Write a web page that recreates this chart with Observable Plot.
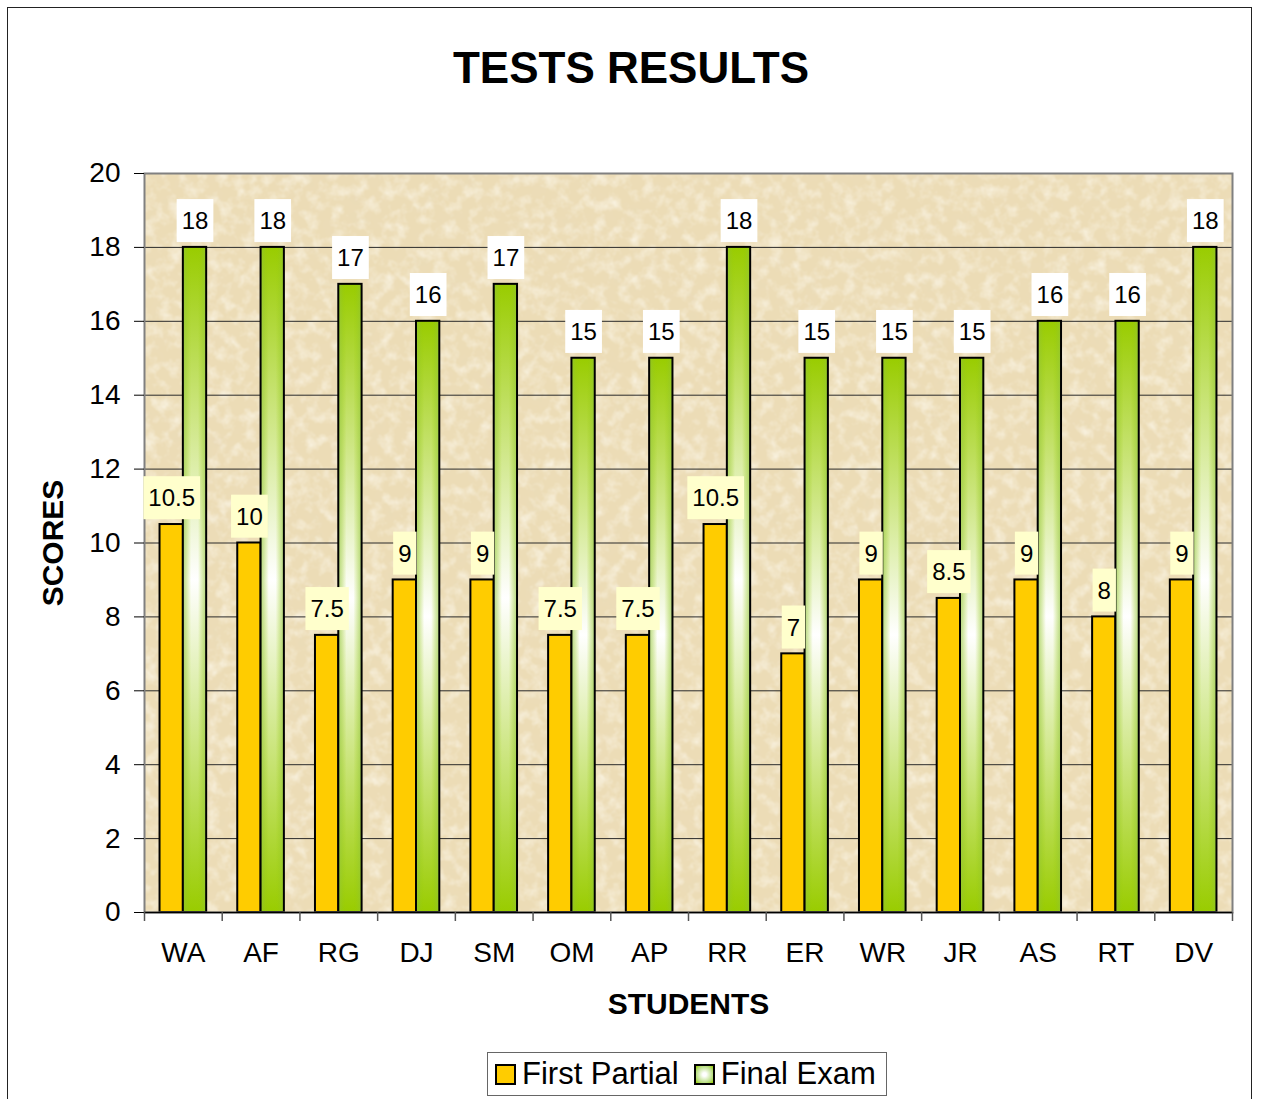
<!DOCTYPE html>
<html><head><meta charset="utf-8">
<script src="https://cdn.jsdelivr.net/npm/d3@7"></script>
<script src="https://cdn.jsdelivr.net/npm/@observablehq/plot@0.6"></script>
<style>
body{margin:0;background:#fff;font-family:"Liberation Sans",Arial,sans-serif;}
#wrap{position:relative;width:1262px;height:1099px;overflow:hidden;background:#fff;}
#border{position:absolute;left:7px;top:7px;width:1243px;height:1200px;border:1.5px solid #222;}
#title{position:absolute;left:0;top:46px;width:1262px;text-align:center;font-weight:bold;font-size:44px;line-height:1;color:#000;}
#chart{position:absolute;left:0;top:0;}
#legend{position:absolute;left:487px;top:1052px;width:398px;height:42px;border:1.5px solid #666;background:#fff;display:flex;align-items:center;font-size:31px;color:#000;}
.sw{width:17px;height:17px;border:2px solid #000;display:inline-block;margin-right:6px;}
.item{display:flex;align-items:center;margin-left:7px;}
</style>
</head><body>
<div id="wrap">
  <div id="border"></div>
  <div id="title">TESTS RESULTS</div>
  <div id="chart"></div>
  <div id="legend">
    <div class="item"><span class="sw" style="background:#FFCC00"></span><span>First Partial</span></div>
    <div class="item" style="margin-left:15px"><span class="sw" style="background:radial-gradient(circle,#ffffff 15%,#b8de80 70%,#99cc00 100%)"></span><span>Final Exam</span></div>
  </div>
</div>
<script>
const students = ["WA","AF","RG","DJ","SM","OM","AP","RR","ER","WR","JR","AS","RT","DV"];
const firstPartial = [10.5,10,7.5,9,9,7.5,7.5,10.5,7,9,8.5,9,8,9];
const finalExam = [18,18,17,16,17,15,15,18,15,15,15,16,16,18];
const yTicks = [0,2,4,6,8,10,12,14,16,18,20];
const gridTicks = [2,4,6,8,10,12,14,16,18];
const seriesNames = ["First Partial","Final Exam"];

const rows = students.map((s,i)=>({student:s, first:firstPartial[i], final:finalExam[i]}));

const W = 1262, H = 1099, mL = 144, mR = 30, mT = 173, mB = 187;
const step = (W - mL - mR) / (students.length - 0.4 + 0.4);
const half = step * 0.6 / 2;

const svg = Plot.plot({
  width: W, height: H,
  marginLeft: mL, marginRight: mR, marginTop: mT, marginBottom: mB,
  style: {fontFamily: "Liberation Sans, Arial, sans-serif", background: "transparent", color: "#000"},
  x: {domain: students, paddingInner: 0.4, paddingOuter: 0.2, round: false, label: null},
  y: {domain: [0, 20], label: null},
  marks: [
    Plot.frame({fill: "url(#parchment)", stroke: "none"}),
    Plot.gridY(gridTicks, {stroke: "#2a2a2a", strokeOpacity: 1, strokeWidth: 1}),
    Plot.barY(rows, {x: "student", y: "first", fill: "#FFCC00", stroke: "#000", strokeWidth: 2, insetRight: half}),
    Plot.barY(rows, {x: "student", y: "final", fill: "url(#greenV)", insetLeft: half}),
    Plot.barY(rows, {x: "student", y: "final", fill: "url(#greenH)", stroke: "#000", strokeWidth: 2, insetLeft: half}),
    Plot.frame({stroke: "#808080", strokeWidth: 2}),
    Plot.ruleY([0], {stroke: "#000", strokeWidth: 1.5}),
    Plot.axisY({ticks: yTicks, tickSize: 10, tickPadding: 14, fontSize: 28, line: true, stroke: "#000", label: null}),
    Plot.axisX({tickSize: 0, tickPadding: 30, fontSize: 28, label: null}),
    Plot.ruleX(students, {x: d => d, y1: 0, y2: 0, dx: -step/2, insetBottom: -9, stroke: "#555", strokeWidth: 1.5}),
    Plot.ruleX([students[students.length-1]], {x: d => d, y1: 0, y2: 0, dx: step/2, insetBottom: -9, stroke: "#555", strokeWidth: 1.5}),
    Plot.text(rows, {x: "student", y: "first", text: d => String(d.first), dx: -half/2, dy: -26, fontSize: 24, fill: "#000"}),
    Plot.text(rows, {x: "student", y: "final", text: d => String(d.final), dx: half/2, dy: -26, fontSize: 24, fill: "#000"}),
    Plot.text(["SCORES"], {text: d => d, frameAnchor: "left", textAnchor: "middle", lineAnchor: "middle", rotate: -90, dx: -91, fontSize: 30, fontWeight: "bold", fill: "#000"}),
    Plot.text(["STUDENTS"], {text: d => d, frameAnchor: "bottom", textAnchor: "middle", lineAnchor: "middle", dy: 92, fontSize: 30, fontWeight: "bold", fill: "#000"})
  ]
});
document.getElementById("chart").appendChild(svg);

// defs: parchment texture and green gradients
const ns = "http://www.w3.org/2000/svg";
const defsHTML = `
<filter id="noiseDark" x="0" y="0" width="100%" height="100%">
  <feTurbulence type="fractalNoise" baseFrequency="0.05" numOctaves="4" seed="7"/>
  <feColorMatrix type="matrix" values="0 0 0 0 0.83  0 0 0 0 0.71  0 0 0 0 0.48  1.8 0 0 0 -0.78"/>
</filter>
<filter id="noiseLight" x="0" y="0" width="100%" height="100%">
  <feTurbulence type="fractalNoise" baseFrequency="0.08" numOctaves="3" seed="21"/>
  <feColorMatrix type="matrix" values="0 0 0 0 0.97  0 0 0 0 0.93  0 0 0 0 0.82  1.6 0 0 0 -0.7"/>
</filter>
<pattern id="parchment" patternUnits="userSpaceOnUse" x="${mL}" y="${mT}" width="${W-mL-mR}" height="${H-mT-mB}">
  <rect width="${W-mL-mR}" height="${H-mT-mB}" fill="#ECDCB6"/>
  <rect width="${W-mL-mR}" height="${H-mT-mB}" filter="url(#noiseDark)"/>
  <rect width="${W-mL-mR}" height="${H-mT-mB}" filter="url(#noiseLight)"/>
</pattern>
<linearGradient id="greenV" x1="0" y1="0" x2="0" y2="1">
  <stop offset="0" stop-color="#99CC00"/>
  <stop offset="0.5" stop-color="#FFFFFF"/>
  <stop offset="1" stop-color="#99CC00"/>
</linearGradient>
<linearGradient id="greenH" x1="0" y1="0" x2="1" y2="0">
  <stop offset="0" stop-color="#8CC040" stop-opacity="0.65"/>
  <stop offset="0.35" stop-color="#99CC00" stop-opacity="0"/>
  <stop offset="0.65" stop-color="#99CC00" stop-opacity="0"/>
  <stop offset="1" stop-color="#8CC040" stop-opacity="0.65"/>
</linearGradient>`;
const defs = document.createElementNS(ns, "defs");
defs.innerHTML = defsHTML;
svg.insertBefore(defs, svg.firstChild);

// label boxes behind value labels
const groups = Array.from(svg.querySelectorAll('g[aria-label="text"]')).filter(g => g.querySelectorAll("text").length === students.length);
const boxFills = ["#FFFFCC", "#FFFFFF"];
groups.forEach((g, gi) => {
  g.querySelectorAll("text").forEach(t => {
    const bb = t.getBBox();
    const r = document.createElementNS(ns, "rect");
    const cy = bb.y + bb.height / 2;
    r.setAttribute("x", bb.x - 5);
    r.setAttribute("width", bb.width + 10);
    r.setAttribute("y", cy - 21.5);
    r.setAttribute("height", 43);
    r.setAttribute("fill", boxFills[gi] || "#fff");
    r.setAttribute("stroke", "none");
    const tr = t.getAttribute("transform");
    if (tr) r.setAttribute("transform", tr);
    g.insertBefore(r, t);
  });
});
</script>
</body></html>
